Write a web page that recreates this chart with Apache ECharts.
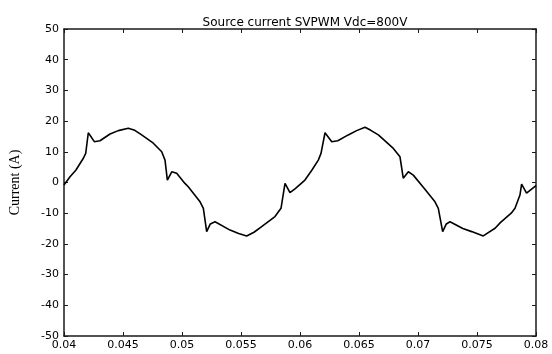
<!DOCTYPE html>
<html>
<head>
<meta charset="utf-8">
<script src="https://cdn.jsdelivr.net/npm/echarts@6/dist/echarts.min.js"></script>
<style>
    html, body {margin: 0; padding: 0; background: #fff;}
    #chart {width: 552px; height: 354px;}
</style>
</head>
<body>
<div id="chart"></div>
<script>
// time (s)
var timeS = [
    0.0400, 0.04008, 0.04051, 0.0410, 0.04164, 0.04184, 0.04206, 0.04257, 0.04305, 0.04390,
    0.04460, 0.04545, 0.04600, 0.04658, 0.04757, 0.04828, 0.04856, 0.04876, 0.04913, 0.04955,
    0.05025, 0.05053, 0.05153, 0.05181, 0.05209, 0.05240, 0.05280, 0.05407, 0.05480, 0.05548,
    0.05610, 0.05675, 0.05788, 0.05839, 0.05873, 0.05915, 0.05960, 0.06042, 0.06100, 0.06155,
    0.06178, 0.06212, 0.06269, 0.06320, 0.06409, 0.06480, 0.06551, 0.06600, 0.06664, 0.06791,
    0.06847, 0.06875, 0.06918, 0.06960, 0.07050, 0.07144, 0.07172, 0.07209, 0.07240, 0.07271,
    0.07380, 0.07455, 0.07553, 0.07653, 0.07700, 0.07790, 0.07822, 0.07864, 0.07878, 0.07920,
    0.08000
];
// source current (A)
var currentA = [
    -0.8, -0.5, 1.9, 4.0, 7.9, 9.5, 16.2, 13.3, 13.6, 15.8,
    16.9, 17.7, 17.0, 15.5, 12.8, 10.0, 7.3, 0.8, 3.5, 3.0,
    -0.3, -1.4, -6.3, -8.4, -16.0, -13.5, -12.8, -15.5, -16.6, -17.4,
    -16.2, -14.4, -11.1, -8.4, -0.3, -3.3, -2.0, 0.8, 4.0, 7.3,
    9.5, 16.2, 13.3, 13.6, 15.5, 16.9, 18.0, 17.0, 15.5, 11.1,
    8.4, 1.4, 3.5, 2.4, -1.8, -6.3, -8.4, -16.0, -13.5, -12.8,
    -15.0, -16.0, -17.4, -14.9, -13.0, -10.0, -8.4, -4.1, -0.5, -3.5,
    -1.0
];

var points = [];
for (var i = 0; i < timeS.length; i++) {
    points.push([timeS[i], currentA[i]]);
}

var myChart = echarts.init(document.getElementById('chart'), null, {renderer: 'canvas'});

var frameLine = {show: true, onZero: false, lineStyle: {color: '#1a1a1a', width: 1.5}};
var inTick = {show: true, inside: true, length: 4, lineStyle: {color: '#1a1a1a', width: 1}};

var option = {
    animation: false,
    backgroundColor: '#fff',
    title: {
        text: 'Source current SVPWM Vdc=800V',
        left: 300,
        textAlign: 'center',
        top: 12,
        textStyle: {fontFamily: 'DejaVu Sans', fontSize: 12, fontWeight: 'normal', color: '#000'}
    },
    grid: {left: 64, right: 16, top: 29, bottom: 18},
    xAxis: [
        {
            type: 'value', min: 0.04, max: 0.08, interval: 0.005,
            axisLine: frameLine, axisTick: inTick, splitLine: {show: false},
            axisLabel: {
                color: '#000', fontFamily: 'DejaVu Sans', fontSize: 11, margin: 4,
                formatter: function (v) { return String(parseFloat(v.toFixed(3))); }
            }
        },
        {
            type: 'value', position: 'top', min: 0.04, max: 0.08, interval: 0.005,
            axisLine: frameLine, axisTick: inTick, axisLabel: {show: false}, splitLine: {show: false}
        }
    ],
    yAxis: [
        {
            type: 'value', min: -50, max: 50, interval: 10,
            name: 'Current (A)', nameLocation: 'middle', nameGap: 42,
            nameTextStyle: {fontFamily: 'Liberation Serif', fontSize: 14, color: '#000'},
            axisLine: frameLine, axisTick: inTick, splitLine: {show: false},
            axisLabel: {color: '#000', fontFamily: 'DejaVu Sans', fontSize: 11, margin: 5}
        },
        {
            type: 'value', position: 'right', min: -50, max: 50, interval: 10,
            axisLine: frameLine, axisTick: inTick, axisLabel: {show: false}, splitLine: {show: false}
        }
    ],
    series: [
        {
            type: 'line',
            data: points,
            showSymbol: false,
            symbol: 'none',
            lineStyle: {color: '#000', width: 1.6},
            z: 3
        }
    ]
};

myChart.setOption(option);
</script>
</body>
</html>
